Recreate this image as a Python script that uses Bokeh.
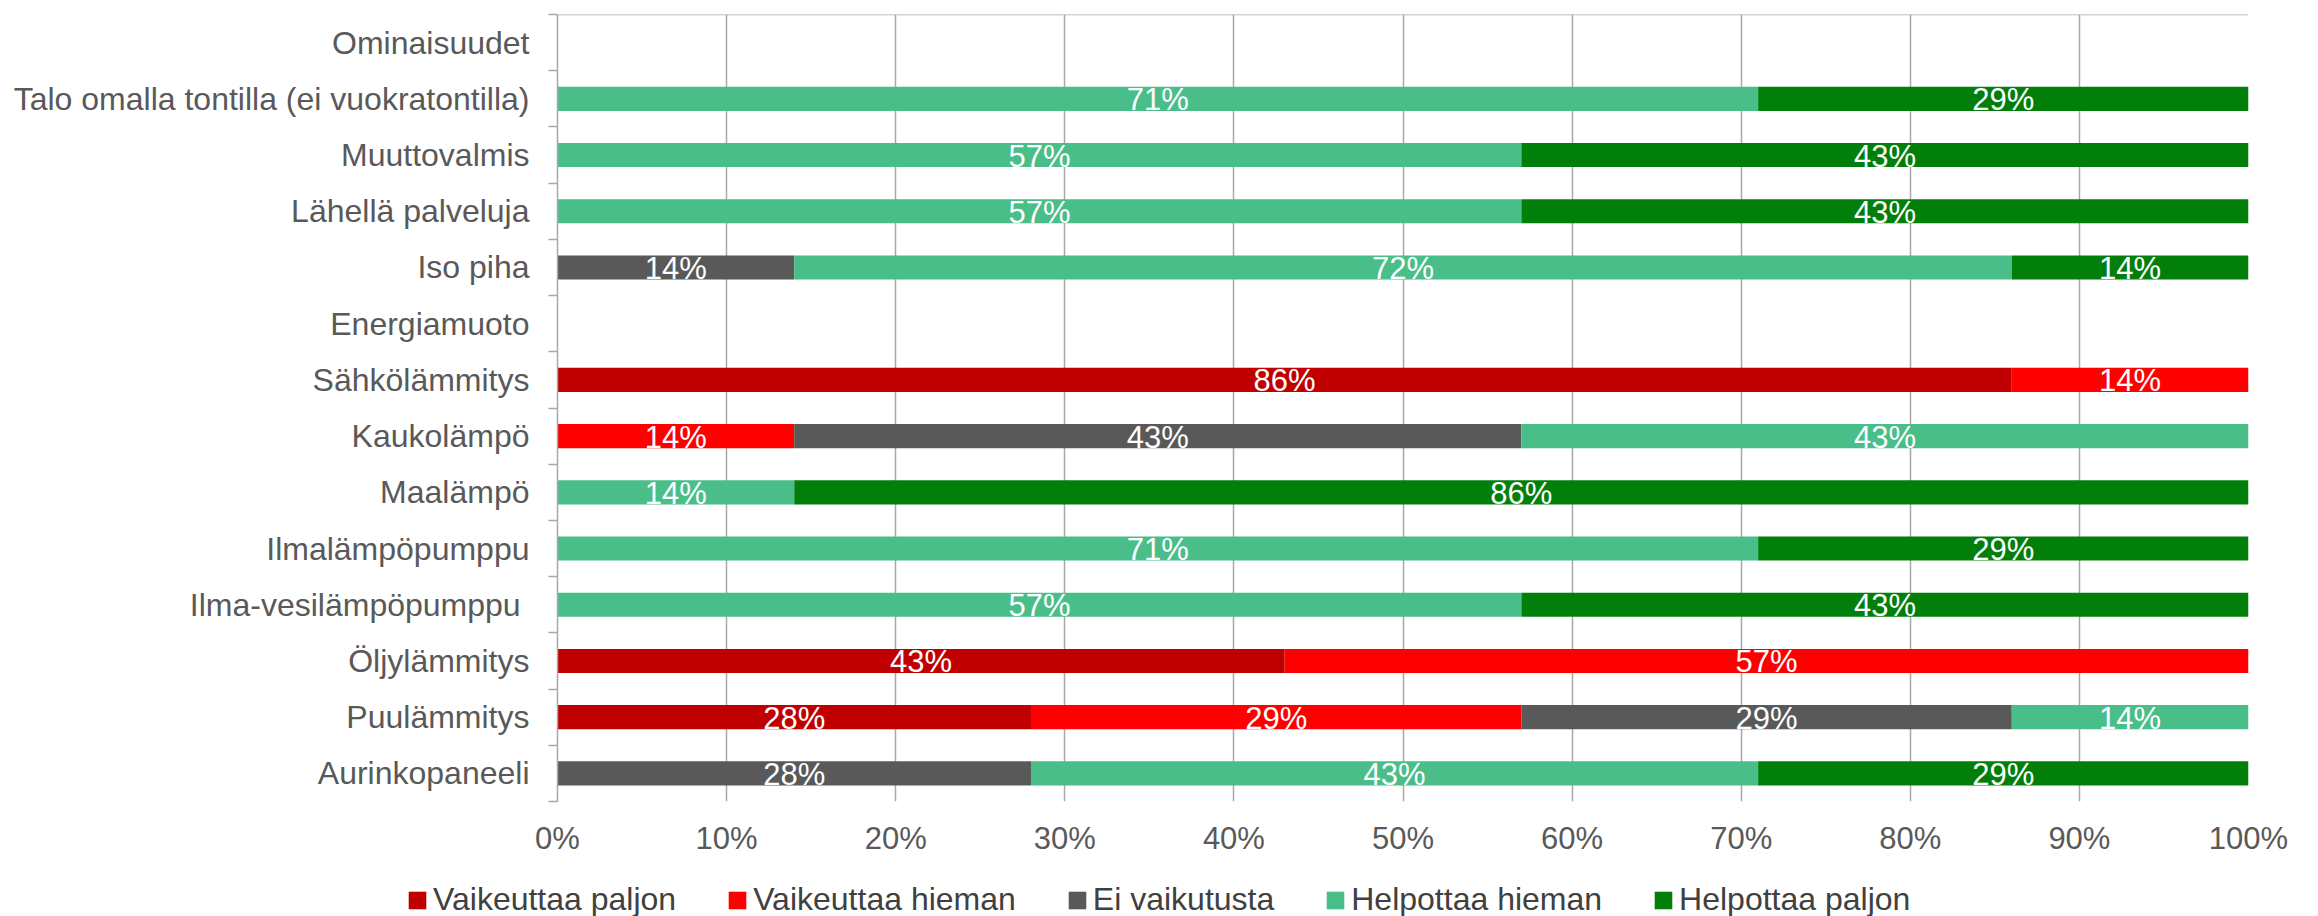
from bokeh.plotting import figure
from bokeh.models import (ColumnDataSource, FixedTicker, NumeralTickFormatter, Span,
                          Legend, LegendItem, Range1d)
from bokeh.layouts import column
from bokeh.embed import file_html
from bokeh.resources import INLINE
from bokeh.core.properties import value

categories = ["Ominaisuudet", "Talo omalla tontilla (ei vuokratontilla)", "Muuttovalmis",
              "Lähellä palveluja", "Iso piha", "Energiamuoto", "Sähkölämmitys", "Kaukolämpö",
              "Maalämpö", "Ilmalämpöpumppu", "Ilma-vesilämpöpumppu ", "Öljylämmitys",
              "Puulämmitys", "Aurinkopaneeli"]
series_names = ["Vaikeuttaa paljon", "Vaikeuttaa hieman", "Ei vaikutusta",
                "Helpottaa hieman", "Helpottaa paljon"]
vaikeuttaa_paljon = [0, 0, 0, 0, 0, 0, 86, 0, 0, 0, 0, 43, 28, 0]
vaikeuttaa_hieman = [0, 0, 0, 0, 0, 0, 14, 14, 0, 0, 0, 57, 29, 0]
ei_vaikutusta = [0, 0, 0, 0, 14, 0, 0, 43, 0, 0, 0, 0, 29, 28]
helpottaa_hieman = [0, 71, 57, 57, 72, 0, 0, 43, 14, 71, 57, 0, 14, 43]
helpottaa_paljon = [0, 29, 43, 43, 14, 0, 0, 0, 86, 29, 43, 0, 0, 29]
x_ticks = [0, 0.1, 0.2, 0.3, 0.4, 0.5, 0.6, 0.7, 0.8, 0.9, 1.0]

series_values = [vaikeuttaa_paljon, vaikeuttaa_hieman, ei_vaikutusta, helpottaa_hieman, helpottaa_paljon]
colors = ["#C00000", "#FF0000", "#595959", "#49BE89", "#027F0B"]

FONT = "Liberation Sans"
FS = "31px"
FS_CAT = "32px"
GRID = "#A8A8A8"

n = len(categories)
ypos = [n - 1 - i for i in range(n)]

p = figure(width=2318, height=866, x_range=Range1d(0, 1), y_range=Range1d(-0.5, n - 0.5),
           output_backend="svg", toolbar_location=None,
           min_border_left=557, min_border_right=70, min_border_top=14, min_border_bottom=65)
p.outline_line_color = None

# legend strip (separate figure below the chart; its ranges keep the bars out of view)
lg = figure(width=2318, height=50, x_range=Range1d(0, 1), y_range=Range1d(100, 101),
            output_backend="svg", toolbar_location=None,
            min_border_left=0, min_border_right=0, min_border_top=0, min_border_bottom=0)
lg.axis.visible = False
lg.grid.grid_line_color = None
lg.outline_line_color = None
for fig in (p, lg):
    try:
        fig.frame_align = False
    except Exception:
        pass

cum = [0.0] * n
items = []
for name, vals, col in zip(series_names, series_values, colors):
    ys, lefts, rights, mids, labels = [], [], [], [], []
    for i in range(n):
        v = vals[i]
        if v > 0:
            l = cum[i] / 100.0
            r = (cum[i] + v) / 100.0
            ys.append(ypos[i]); lefts.append(l); rights.append(r)
            mids.append((l + r) / 2); labels.append(f"{v}%")
        cum[i] += v
    src = ColumnDataSource(dict(y=ys, left=lefts, right=rights, mid=mids, label=labels))
    p.hbar(y="y", left="left", right="right", height=0.43, source=src,
           fill_color=col, line_color=None)
    p.text(x="mid", y="y", text="label", source=src, text_color="white",
           text_font=value(FONT), text_font_size=value(FS),
           text_align="center", text_baseline="middle", y_offset=1)
    rl = lg.hbar(y="y", left="left", right="right", height=0.43, source=src,
                 fill_color=col, line_color=None)
    items.append(LegendItem(label=name, renderers=[rl]))

# top border line
p.add_layout(Span(location=n - 0.5, dimension="width", line_color=GRID, line_width=1.5))

# y axis
p.yaxis.ticker = FixedTicker(ticks=ypos, minor_ticks=[k - 0.5 for k in range(n + 1)])
p.yaxis.major_label_overrides = {y: c for y, c in zip(ypos, categories)}
p.yaxis.major_tick_out = 0
p.yaxis.major_tick_in = 0
p.yaxis.minor_tick_out = 9
p.yaxis.minor_tick_in = 0
p.yaxis.minor_tick_line_color = GRID
p.yaxis.minor_tick_line_width = 1.5
p.yaxis.axis_line_color = GRID
p.yaxis.axis_line_width = 1.5
p.yaxis.major_label_standoff = 19
p.yaxis.major_label_text_font = FONT
p.yaxis.major_label_text_font_size = FS_CAT
p.yaxis.major_label_text_color = "#595959"
p.ygrid.grid_line_color = None

# x axis
p.xaxis.ticker = FixedTicker(ticks=x_ticks)
p.xaxis.formatter = NumeralTickFormatter(format="0%")
p.xaxis.axis_line_color = None
p.xaxis.major_tick_line_color = None
p.xaxis.minor_tick_line_color = None
p.xaxis.major_label_standoff = 13
p.xaxis.major_label_text_font = FONT
p.xaxis.major_label_text_font_size = FS
p.xaxis.major_label_text_color = "#595959"
p.xgrid.ticker = FixedTicker(ticks=x_ticks)
p.xgrid.grid_line_color = GRID
p.xgrid.grid_line_width = 1.5

legend = Legend(items=items, orientation="horizontal", location=(406, -2),
                glyph_width=22, glyph_height=22, label_standoff=5, spacing=50,
                padding=0, margin=0, border_line_color=None, background_fill_alpha=0,
                label_text_font=FONT, label_text_font_size=FS_CAT, label_text_color="#404040")
lg.add_layout(legend)

layout = column(p, lg, spacing=0)
open("out.html", "w").write(file_html(layout, INLINE))
